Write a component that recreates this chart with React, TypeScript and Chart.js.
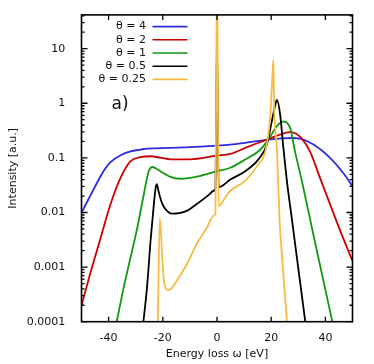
import React, { useEffect, useRef } from 'react';
import { Chart, registerables } from 'chart.js';

Chart.register(...registerables);

const seriesLabels = ['θ = 4', 'θ = 2', 'θ = 1', 'θ = 0.5', 'θ = 0.25'];
const seriesColors = ['#2b2be0', '#cc0000', '#129912', '#000000', '#f8ba42'];

const omegaTheta4 = [-50, -46.6, -42.9, -41.1, -39.3, -35.6, -31.9, -28.2, -25.8, -17.2, -6.1, 0, 4.9, 10.4, 19, 24, 27.6, 30.6, 35.6, 41.7, 46.6, 50];
const intensityTheta4 = [0.0099, 0.021, 0.0465, 0.065, 0.0835, 0.112, 0.132, 0.142, 0.148, 0.152, 0.16, 0.167, 0.175, 0.189, 0.216, 0.228, 0.231, 0.225, 0.175, 0.1, 0.053, 0.03];

const omegaTheta2 = [-50, -46.6, -42.9, -39.3, -35.6, -31.9, -28.2, -24.5, -20.5, -17.2, -10, 0, 4.9, 10.4, 16.6, 21.5, 25, 27, 29, 31, 34.3, 38, 41.7, 45.4, 50];
const intensityTheta2 = [0.0002, 0.00082, 0.0035, 0.0142, 0.043, 0.087, 0.103, 0.107, 0.1, 0.094, 0.094, 0.11, 0.118, 0.152, 0.2, 0.248, 0.285, 0.297, 0.28, 0.235, 0.132, 0.043, 0.0142, 0.0047, 0.0013];

const omegaTheta1 = [-37.0, -34.4, -31.9, -29.4, -27, -25.2, -23.9, -22.5, -20.9, -17.2, -13.5, -6.1, 0, 4.9, 10.4, 15.3, 19, 22, 24.5, 27, 28.8, 31.3, 35, 42.3, 43.6];
const intensityTheta1 = [0.0001, 0.00043, 0.0015, 0.0053, 0.0216, 0.057, 0.068, 0.064, 0.057, 0.045, 0.0415, 0.047, 0.057, 0.066, 0.093, 0.132, 0.216, 0.377, 0.46, 0.35, 0.13, 0.038, 0.0053, 0.000115, 0.00006];

const omegaTheta05 = [-27.5, -25.8, -24.5, -23.3, -22.6, -22.2, -21.6, -21.0, -20.2, -19.2, -18.0, -16.5, -14.0, -11.0, -8.6, -3, -1.2, -0.6, 0, 0.6, 4.9, 10.4, 15.3, 18.4, 20.2, 21.5, 22.1, 23.3, 24.5, 25.8, 27.6, 32.5, 33];
const intensityTheta05 = [0.00007, 0.00044, 0.0031, 0.0142, 0.029, 0.033, 0.025, 0.019, 0.0145, 0.0118, 0.0102, 0.0095, 0.0097, 0.0108, 0.013, 0.021, 0.025, 0.027, 15, 0.029, 0.04, 0.057, 0.094, 0.175, 0.46, 0.93, 1.15, 0.62, 0.152, 0.0375, 0.0078, 0.000107, 0.00007];

const omegaTheta025 = [-22.0, -21.85, -21.1, -20.2, -19.6, -18.6, -17.8, -17, -14.7, -11, -7.4, -3.7, -1.25, -0.6, 0, 0.6, 3, 4.9, 10.4, 15.3, 17.8, 19.6, 20.46, 20.8, 21.06, 22.08, 22.56, 23.1, 24.4, 25.76, 26.2];
const intensityTheta025 = [0.00006, 0.0001, 0.0079, 0.0015, 0.00058, 0.00039, 0.00038, 0.0004, 0.00058, 0.00115, 0.0027, 0.0053, 0.0087, 0.0097, 300, 0.013, 0.0187, 0.025, 0.038, 0.076, 0.13, 0.54, 3.3, 6.2, 0.97, 0.15, 0.0377, 0.0071, 0.00087, 0.000107, 0.00006];

const xTickValues = [-40, -20, 0, 20, 40];
const yTickValues = [0.0001, 0.001, 0.01, 0.1, 1, 10];

const omegaSeries = [omegaTheta4, omegaTheta2, omegaTheta1, omegaTheta05, omegaTheta025];
const intensitySeries = [intensityTheta4, intensityTheta2, intensityTheta1, intensityTheta05, intensityTheta025];

const FONT = "'DejaVu Sans', sans-serif";

const framePlugin = {
  id: 'framePlugin',
  afterDatasetsDraw(chart: any) {
    const { ctx, chartArea: a, scales } = chart;
    const xs = scales.x;
    const ys = scales.y;
    ctx.save();
    ctx.strokeStyle = '#000';
    ctx.lineWidth = 1.3;
    ctx.beginPath();
    for (const v of xTickValues) {
      const px = xs.getPixelForValue(v);
      ctx.moveTo(px, a.bottom);
      ctx.lineTo(px, a.bottom - 5);
      ctx.moveTo(px, a.top);
      ctx.lineTo(px, a.top + 5);
    }
    for (let e = -4; e <= 1; e++) {
      for (let m = 1; m <= 9; m++) {
        const v = m * Math.pow(10, e);
        if (v > ys.max) continue;
        const py = ys.getPixelForValue(v);
        const len = m === 1 ? 6 : 3;
        ctx.moveTo(a.left, py);
        ctx.lineTo(a.left + len, py);
        ctx.moveTo(a.right, py);
        ctx.lineTo(a.right - len, py);
      }
    }
    ctx.stroke();
    ctx.lineWidth = 1.6;
    ctx.strokeRect(a.left, a.top, a.right - a.left, a.bottom - a.top);

    // legend
    ctx.font = `11px ${FONT}`;
    ctx.textAlign = 'right';
    ctx.textBaseline = 'middle';
    chart.data.datasets.forEach((ds: any, i: number) => {
      const y = a.top + 11.7 + i * 13.2;
      ctx.fillStyle = '#111';
      ctx.fillText(ds.label, a.left + 64.5, y);
      ctx.strokeStyle = ds.borderColor;
      ctx.lineWidth = 1.6;
      ctx.beginPath();
      ctx.moveTo(a.left + 71, y);
      ctx.lineTo(a.left + 106, y);
      ctx.stroke();
    });
    ctx.font = `17px ${FONT}`;
    ctx.textAlign = 'left';
    ctx.fillStyle = '#111';
    ctx.fillText('a)', a.left + 30, a.top + 90);
    ctx.restore();
  },
};

export default function App() {
  const canvasRef = useRef<HTMLCanvasElement | null>(null);

  useEffect(() => {
    document.body.style.margin = '0';
    const canvas = canvasRef.current;
    if (!canvas) return;
    const datasets = seriesLabels.map((label, i) => ({
      label,
      data: omegaSeries[i].map((x, j) => ({ x, y: intensitySeries[i][j] })),
      borderColor: seriesColors[i],
      backgroundColor: seriesColors[i],
      borderWidth: 1.8,
      pointRadius: 0,
      fill: false,
      tension: 0.4,
      cubicInterpolationMode: 'monotone' as const,
      order: seriesLabels.length - i,
    }));
    const chart = new Chart(canvas, {
      type: 'line',
      data: { datasets },
      options: {
        animation: false,
        responsive: false,
        devicePixelRatio: 1,
        layout: { padding: { top: 13.3, right: 21.5, left: 0, bottom: 0 } },
        plugins: { legend: { display: false }, tooltip: { enabled: false } },
        scales: {
          x: {
            type: 'linear',
            min: -50,
            max: 50,
            grid: { display: false },
            border: { display: false },
            ticks: {
              color: '#111',
              font: { family: FONT, size: 11 },
              padding: 1.4,
              maxRotation: 0,
              autoSkip: false,
              callback: (v: any) => String(v),
            },
            afterBuildTicks: (s: any) => {
              s.ticks = xTickValues.map((v) => ({ value: v }));
            },
            afterFit: (s: any) => {
              s.height = 42.3;
            },
            title: {
              display: true,
              text: 'Energy loss ω [eV]',
              color: '#111',
              font: { family: FONT, size: 11 },
              padding: { top: 0, bottom: 3.1 },
            },
          },
          y: {
            type: 'logarithmic',
            min: 0.0001,
            max: 41.5,
            grid: { display: false },
            border: { display: false },
            ticks: {
              color: '#111',
              font: { family: FONT, size: 11 },
              padding: 8.3,
              autoSkip: false,
              callback: (v: any) => String(v),
            },
            afterBuildTicks: (s: any) => {
              s.ticks = yTickValues.map((v) => ({ value: v }));
            },
            afterFit: (s: any) => {
              s.width = 81.5;
            },
            title: {
              display: true,
              text: 'Intensity [a.u.]',
              color: '#111',
              font: { family: FONT, size: 11 },
              padding: { top: 6.7, bottom: 0 },
            },
          },
        },
      },
      plugins: [framePlugin],
    });
    return () => chart.destroy();
  }, []);

  return (
    <div style={{ position: 'absolute', left: 0, top: 0, width: 374, height: 364 }}>
      <canvas ref={canvasRef} width={374} height={364} />
    </div>
  );
}
